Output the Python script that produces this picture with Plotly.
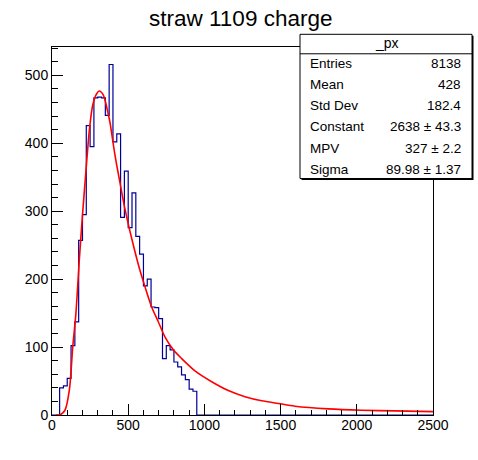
import plotly.graph_objects as go

# ---------------- data ----------------
bin_width = 25
x_start = 0
counts = [0, 0, 40, 43, 54, 102, 137, 257, 295, 426,
          395, 467, 468, 467, 441, 516, 402, 414, 291, 359,
          276, 327, 263, 237, 190, 200, 159, 158, 142, 83,
          102, 96, 78, 71, 59, 52, 38, 35] + [0] * 62

fit_x = [25, 55, 85, 114, 136, 157, 179, 201, 223, 245, 267, 293, 311, 337,
         370, 381, 413, 446, 479, 512, 545, 577, 610, 654, 698, 741, 796,
         851, 938, 1048, 1157, 1266, 1376, 1485, 1594, 1813, 2032, 2251, 2500]
fit_y = [0, 0.5, 7, 37, 100, 150, 228, 297, 360, 419, 456, 473, 477, 471,
         442, 430, 383, 342, 303, 270, 240, 213, 189, 159, 137, 115, 96,
         83, 65, 49, 36, 27, 21, 17, 13, 9, 7, 6, 5]

x_tickvals = [0, 500, 1000, 1500, 2000, 2500]
y_tickvals = [0, 100, 200, 300, 400, 500]

title_text = "straw 1109 charge"
stats_title = "_px"
stats_labels = ["Entries", "Mean", "Std Dev", "Constant", "MPV", "Sigma"]
stats_values = ["8138", "428", "182.4", "2638 \u00b1 43.3", "327 \u00b1 2.2", "89.98 \u00b1 1.37"]

# ---------------- layout helpers ----------------
# body margin is removed by the post script, so figure px == screen px
W, H = 478, 460
plot_left, plot_right, plot_top, plot_bottom = 52, 433, 46.7, 415
L = plot_left
R = W - plot_right
T = plot_top
B = H - plot_bottom
pw = W - L - R
ph = H - T - B


def px(x):
    return (x - plot_left) / pw


def py(y):
    return (plot_bottom - y) / ph


FONT = "Liberation Sans, Arial, Helvetica, sans-serif"

edges = [x_start + i * bin_width for i in range(len(counts) + 1)]
y_step = counts + [counts[-1]]

fig = go.Figure()
fig.add_trace(go.Scatter(
    x=edges, y=y_step, mode="lines", line=dict(color="#000099", width=1.2, shape="hv"),
    hoverinfo="skip", showlegend=False))
fig.add_trace(go.Scatter(
    x=fit_x, y=fit_y, mode="lines", line=dict(color="#ff0000", width=1.6, shape="spline", smoothing=0.8),
    hoverinfo="skip", showlegend=False))

axis_common = dict(
    showgrid=False, zeroline=False, showline=True, linecolor="black", linewidth=1,
    mirror=True, ticks="inside", ticklen=11, tickwidth=1, tickcolor="black",
    tickfont=dict(family=FONT, size=14, color="black"),
)

fig.update_xaxes(range=[0, 2500], tickvals=x_tickvals, ticklabelstandoff=-3,
                 minor=dict(dtick=100, ticks="inside", ticklen=5.5, tickcolor="black", tickwidth=1, showgrid=False),
                 **axis_common)
fig.update_yaxes(range=[0, 541.8], tickvals=y_tickvals,
                 minor=dict(dtick=20, ticks="inside", ticklen=6, tickcolor="black", tickwidth=1, showgrid=False),
                 **axis_common)

shapes = []
# stats box shadow
shapes.append(dict(type="rect", xref="paper", yref="paper",
                   x0=px(301.5), x1=px(473.5), y0=py(35.5), y1=py(179.8),
                   fillcolor="black", line=dict(width=0), layer="above"))
# stats box
shapes.append(dict(type="rect", xref="paper", yref="paper",
                   x0=px(300), x1=px(472), y0=py(34), y1=py(178.3),
                   fillcolor="white", line=dict(color="black", width=1), layer="above"))
shapes.append(dict(type="line", xref="paper", yref="paper",
                   x0=px(300), x1=px(472), y0=py(53.5), y1=py(53.5),
                   line=dict(color="black", width=1), layer="above"))

annotations = []
annotations.append(dict(text=title_text, xref="paper", yref="paper", x=px(240), y=py(18),
                        xanchor="center", yanchor="middle", showarrow=False,
                        font=dict(family=FONT, size=22.5, color="black")))
annotations.append(dict(text=stats_title, xref="paper", yref="paper", x=px(386.5), y=py(42.5),
                        xanchor="center", yanchor="middle", showarrow=False,
                        font=dict(family=FONT, size=14, color="black")))
row_y = [63, 84.5, 105.5, 126.5, 148, 169]
for lab, val, ry in zip(stats_labels, stats_values, row_y):
    annotations.append(dict(text=lab, xref="paper", yref="paper", x=px(307.5), y=py(ry),
                            xanchor="left", yanchor="middle", showarrow=False,
                            font=dict(family=FONT, size=13.5, color="black")))
    annotations.append(dict(text=val, xref="paper", yref="paper", x=px(463), y=py(ry),
                            xanchor="right", yanchor="middle", showarrow=False,
                            font=dict(family=FONT, size=13.5, color="black")))

fig.update_layout(
    width=W, height=H, autosize=False,
    margin=dict(l=L, r=R, t=T, b=B, pad=0),
    paper_bgcolor="white", plot_bgcolor="white",
    shapes=shapes, annotations=annotations,
    font=dict(family=FONT, color="black"),
)

fig.write_html("out.html", config={"displayModeBar": False},
               post_script="document.body.style.margin='0px';")
